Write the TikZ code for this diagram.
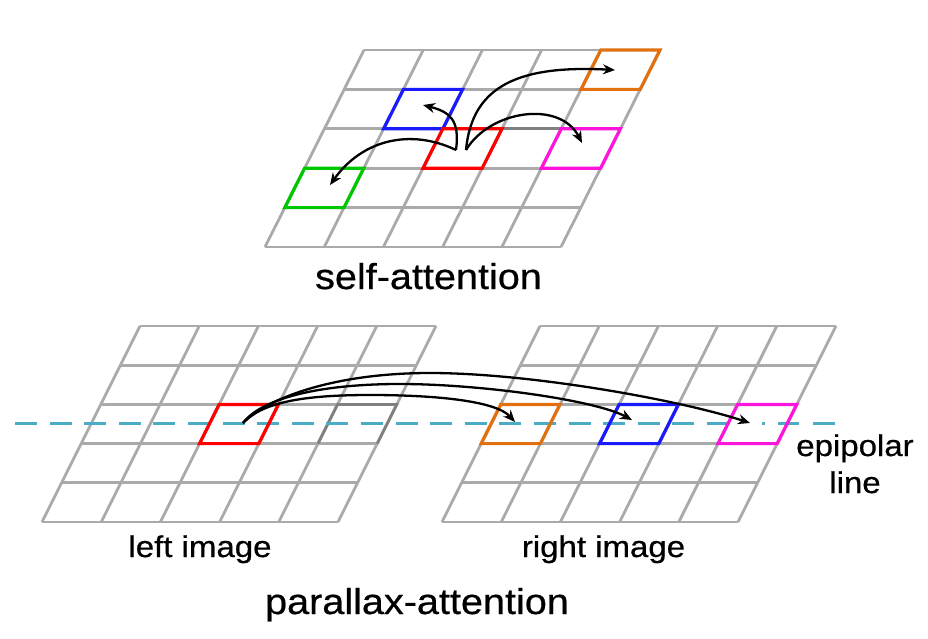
\documentclass[tikz,border=0pt]{standalone}
\usepackage{fontspec}
\newfontfamily\labfont[FakeStretch=1.1,FakeBold=0.6]{Liberation Sans}
\usetikzlibrary{arrows.meta}
\definecolor{gridgray}{HTML}{AAAAAA}
\definecolor{darkgridgray}{HTML}{808080}
\definecolor{epiblue}{HTML}{4BACC6}
\definecolor{cellred}{HTML}{FF0000}
\definecolor{cellblue}{HTML}{1A1AFF}
\definecolor{cellorange}{HTML}{E2700F}
\definecolor{cellmagenta}{HTML}{FF14DC}
\definecolor{cellgreen}{HTML}{00C800}
\tikzset{
  gridline/.style={gridgray, line width=2.8pt},
  darkline/.style={darkgridgray, line width=2.8pt},
  cellbox/.style={line width=3.2pt, line join=miter},
  attn/.style={black, line width=2.3pt, -{Stealth[length=12pt,width=10pt]}},
  epidash/.style={epiblue, line width=3pt, dash pattern=on 22pt off 12.6pt},
  epiplain/.style={epiblue, line width=3pt},
  titletext/.style={font=\labfont\fontsize{36}{43}\selectfont, anchor=base, inner sep=0pt},
  labeltext/.style={font=\labfont\fontsize{30}{36}\selectfont, anchor=base, inner sep=0pt},
}
\begin{document}
\begin{tikzpicture}[x=1pt,y=-1pt]
\useasboundingbox (0,0) rectangle (928,639);

% ---------- top grid (self-attention)
\begin{scope}[shift={(364,50)}, x={(59.2pt,0pt)}, y={(-19.8pt,-39.4pt)}]
  \foreach \i in {0,...,5} {
    \draw[gridline] (\i,0) -- (\i,5);
    \draw[gridline] (0,\i) -- (5,\i);
  }
  \draw[darkline] (3,2) -- (4,2);
  \draw[cellbox, cellorange] (4,0) -- (5,0) -- (5,1) -- (4,1) -- cycle;
  \draw[cellbox, cellblue] (1,1) -- (2,1) -- (2,2) -- (1,2) -- cycle;
  \draw[cellbox, cellred] (2,2) -- (3,2) -- (3,3) -- (2,3) -- cycle;
  \draw[cellbox, cellmagenta] (4,2) -- (5,2) -- (5,3) -- (4,3) -- cycle;
  \draw[cellbox, cellgreen] (0,3) -- (1,3) -- (1,4) -- (0,4) -- cycle;
\end{scope}

\coordinate (oA) at (456,150);
\coordinate (oB) at (466,150);
\coordinate (tg) at (330,185);
\coordinate (tb) at (423,105);
\coordinate (to) at (615,70);
\coordinate (tm) at (582,143);
\draw[attn] (oA) .. controls (410,128) and (362,140) .. (tg);
\draw[attn] (oA) .. controls (460,120) and (450,112) .. (tb);
\draw[attn] (oB) .. controls (472,85) and (520,65) .. (to);
\draw[attn] (oB) .. controls (490,110) and (560,100) .. (tm);

\node[titletext] (selfatt) at (428.5,289) {self-attention};

% ---------- left image grid
\begin{scope}[shift={(140,326)}, x={(59.2pt,0pt)}, y={(-19.6pt,-39.2pt)}]
  \foreach \i in {0,...,5} {
    \draw[gridline] (\i,0) -- (\i,5);
    \draw[gridline] (0,\i) -- (5,\i);
  }
  \draw[darkline] (4,3) -- (4,2) -- (5,2) -- (5,3);
\end{scope}

% ---------- right image grid
\begin{scope}[shift={(540,326)}, x={(59.2pt,0pt)}, y={(-19.6pt,-39.2pt)}]
  \foreach \i in {0,...,5} {
    \draw[gridline] (\i,0) -- (\i,5);
    \draw[gridline] (0,\i) -- (5,\i);
  }
\end{scope}

% epipolar line
\coordinate (eS) at (15,423);
\coordinate (eE) at (729,423);
\draw[epidash] (eS) -- (eE);
\draw[epiplain] (762,423) -- (765,423);
\draw[epiplain] (778,423) -- (799,423);
\draw[epiplain] (813,423) -- (835,423);

% coloured cells of the bottom grids
\begin{scope}[shift={(140,326)}, x={(59.2pt,0pt)}, y={(-19.6pt,-39.2pt)}]
  \draw[cellbox, cellred] (2,2) -- (3,2) -- (3,3) -- (2,3) -- cycle;
\end{scope}
\begin{scope}[shift={(540,326)}, x={(59.2pt,0pt)}, y={(-19.6pt,-39.2pt)}]
  \draw[cellbox, cellorange] (0,2) -- (1,2) -- (1,3) -- (0,3) -- cycle;
  \draw[cellbox, cellblue] (2,2) -- (3,2) -- (3,3) -- (2,3) -- cycle;
  \draw[cellbox, cellmagenta] (4,2) -- (5,2) -- (5,3) -- (4,3) -- cycle;
\end{scope}

\coordinate (oL) at (243,423);
\coordinate (ro) at (515,422);
\coordinate (rb) at (632,420);
\coordinate (rm) at (750,423);
\draw[attn] (oL) .. controls (262,403) and (300,395) .. (370,395)
                 .. controls (430,395) and (495,400) .. (ro);
\draw[attn] (oL) .. controls (262,398) and (320,384) .. (400,384)
                 .. controls (480,384) and (595,400) .. (rb);
\draw[attn] (oL) .. controls (265,400) and (330,373) .. (430,373)
                 .. controls (530,373) and (680,400) .. (rm);

\node[labeltext] (leftimg) at (200,557) {left image};
\node[labeltext] (rightimg) at (603.5,557) {right image};
\node[titletext] (parallax) at (417,614) {parallax-attention};
\node[labeltext] (epiword) at (855,456) {epipolar};
\node[labeltext] (lineword) at (855,493) {line};
\end{tikzpicture}
\end{document}
